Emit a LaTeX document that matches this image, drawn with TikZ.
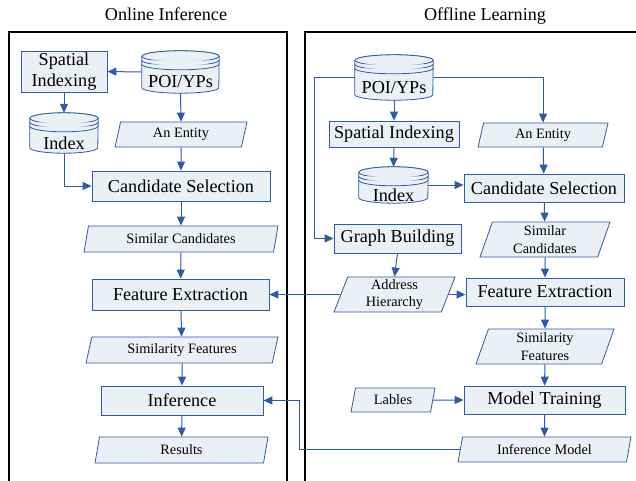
\documentclass[tikz,border=0pt]{standalone}
\usepackage{fontspec}
\setmainfont{Liberation Serif}
\usetikzlibrary{shapes.geometric,arrows.meta,calc}

\definecolor{boxline}{RGB}{47,91,160}
\definecolor{boxfill}{RGB}{235,240,247}

% database drawn as a cylinder round a named frame node
\newcommand{\dbnode}[6]{%
  \node[dbframe, minimum width=#4pt, minimum height=#5pt] (#1) at (#2,#3) {};
  \filldraw[dbline] ($(#1.north west)+(0,5.5)$) -- ($(#1.south west)+(0,-5.5)$)
    arc[start angle=180, end angle=0, x radius=#4/2, y radius=5.5]
    -- ($(#1.north east)+(0,5.5)$)
    arc[start angle=0, end angle=-180, x radius=#4/2, y radius=5.5] -- cycle;
  \draw[dbline] ($(#1.north)+(0,5.5)$) ellipse[x radius=#4/2, y radius=5.5];
  \draw[dbline] ($(#1.north west)+(0,9.5)$) arc[start angle=180, end angle=0, x radius=#4/2, y radius=5.5];
  \draw[dbline] ($(#1.north west)+(0,13.5)$) arc[start angle=180, end angle=0, x radius=#4/2, y radius=5.5];
  \node[bigfont, inner sep=0pt] (#1txt) at ($(#1.center)+(0,10)$) {#6};
}

\begin{document}
\begin{tikzpicture}[
  x=1pt, y=-1pt,
  bigfont/.style={font=\fontsize{18.2}{21}\selectfont},
  smallfont/.style={font=\fontsize{14.3}{17.7}\selectfont},
  proc/.style={rectangle, draw=boxline, fill=boxfill, line width=0.8pt, inner sep=0pt, align=center, bigfont},
  data/.style={trapezium, trapezium left angle=66, trapezium right angle=114, trapezium stretches body=true,
    draw=boxline, fill=boxfill, line width=0.8pt, inner sep=0pt, align=center, smallfont},
  dbframe/.style={rectangle, draw=none, inner sep=0pt},
  dbline/.style={draw=boxline, fill=boxfill, line width=0.8pt},
  conn/.style={draw=boxline, line width=1pt, -{Triangle[length=9pt,width=8pt]}},
  frame/.style={draw=black, line width=2pt},
  title/.style={font=\fontsize{18.1}{21}\selectfont}
]
\useasboundingbox (0,0) rectangle (636,480);

% Panels
\draw[frame] (9,482) -- (9,32) -- (287,32) -- (287,482);
\draw[frame] (305,482) -- (305,32) -- (638,32);
\node[title] (titleL) at (166,14) {Online Inference};
\node[title] (titleR) at (485,16) {Offline Learning};

% Online inference
\node[proc, minimum width=86pt, minimum height=41pt] (spL) at (64,71.5) {Spatial\\Indexing};
\dbnode{poiL}{180.5}{72}{77}{42}{POI/YPs}
\dbnode{idxL}{64}{133}{68}{40}{Index}
\node[data, minimum width=132pt, minimum height=25pt] (entL) at (181,134.5) {An Entity};
\node[proc, minimum width=178pt, minimum height=30pt] (candL) at (181,186) {Candidate Selection};
\node[data, minimum width=194pt, minimum height=26pt] (simcL) at (181,239) {Similar Candidates};
\node[proc, minimum width=177pt, minimum height=31pt] (featL) at (180.5,294.5) {Feature Extraction};
\node[data, minimum width=192pt, minimum height=26pt] (simfL) at (182,350) {Similarity Features};
\node[proc, minimum width=162pt, minimum height=29pt] (infL) at (182,400.5) {Inference};
\node[data, minimum width=173pt, minimum height=26pt] (resL) at (181.5,450) {Results};

% Offline learning
\dbnode{poiR}{394}{77.5}{78}{45}{POI/YPs}
\node[proc, minimum width=130pt, minimum height=26pt] (spR) at (394,134) {Spatial Indexing};
\node[data, minimum width=130pt, minimum height=24pt] (entR) at (543,135) {An Entity};
\dbnode{idxR}{393.5}{185}{69}{36}{Index}
\node[proc, minimum width=160pt, minimum height=28pt] (candR) at (544,188) {Candidate Selection};
\node[proc, minimum width=127pt, minimum height=29pt] (graphR) at (397.5,238.5) {Graph Building};
\node[data, minimum width=130pt, minimum height=35pt] (simcR) at (545,239.5) {Similar\\Candidates};
\node[data, minimum width=121pt, minimum height=35pt] (addrR) at (394.5,294.5) {Address\\Hierarchy};
\node[proc, minimum width=158pt, minimum height=28pt] (featR) at (545,292) {Feature Extraction};
\node[data, minimum width=138pt, minimum height=35pt] (simfR) at (545,346.5) {Similarity\\Features};
\node[proc, minimum width=161pt, minimum height=28pt] (trainR) at (544.5,400) {Model Training};
\node[data, minimum width=84pt, minimum height=24pt] (lblR) at (393,400) {Lables};
\node[data, minimum width=173pt, minimum height=25pt] (infmR) at (544.5,449.5) {Inference Model};

% Arrows (online)
\draw[conn] (poiL.west) -- (spL.east);
\draw[conn] (spL.south) -- (idxL.north);
\draw[conn] (poiL.south) -- (entL.north);
\draw[conn] (idxL.south) |- (candL.west);
\draw[conn] (entL) -- (candL);
\draw[conn] (candL) -- (simcL);
\draw[conn] (simcL) -- (featL);
\draw[conn] (featL) -- (simfL);
\draw[conn] (simfL) -- (infL);
\draw[conn] (infL) -- (resL);

% Arrows (offline)
\draw[conn] (poiR.west) -- ++(-40,0) |- (graphR.west);
\draw[conn] (poiR.east) -| (entR.north);
\draw[conn] (poiR.south) -- (spR.north);
\draw[conn] (spR.south) -- (idxR.north);
\draw[conn] (idxR.east) -- (idxR.east -| candR.west);
\draw[conn] (entR) -- (candR);
\draw[conn] (candR) -- (simcR);
\draw[conn] (simcR) -- (featR);
\draw[conn] (featR) -- (simfR);
\draw[conn] (simfR) -- (trainR);
\draw[conn] (trainR) -- (infmR);
\draw[conn] (graphR.south) -- (addrR.north);
\draw[conn] (addrR.east) -- (addrR.east -| featR.west);
\draw[conn] (lblR.east) -- (trainR.west);

% Across the panels
\draw[conn] (addrR.west) -- (addrR.west -| featL.east);
\draw[conn] (infmR.west) -| ([xshift=36pt]infL.east) -- (infL.east);

\end{tikzpicture}
\end{document}
